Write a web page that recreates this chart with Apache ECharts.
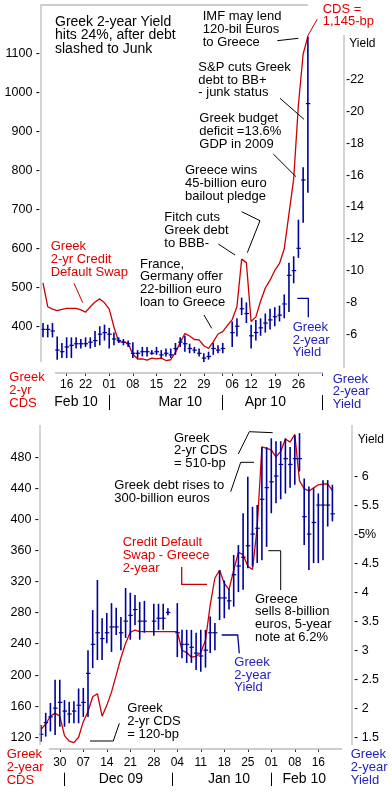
<!DOCTYPE html>
<html><head><meta charset="utf-8">
<script src="https://cdn.jsdelivr.net/npm/echarts@6/dist/echarts.min.js"></script>
<style>html,body{margin:0;padding:0;background:#fff}#c{width:392px;height:792px}</style>
</head><body><div id="c"></div>
<script>
// ---------- categories (trading days) ----------
function weekdays(a, b, skip) {
  const out = []; let d = new Date(a + 'T00:00:00Z'); const e = new Date(b + 'T00:00:00Z');
  while (d <= e) { const w = d.getUTCDay(); const s = d.toISOString().slice(0, 10);
    if (w !== 0 && w !== 6 && skip.indexOf(s) < 0) out.push(s); d = new Date(d.getTime() + 86400000); }
  return out;
}
const topDates = weekdays('2010-02-09', '2010-05-03', []);
const botDates = weekdays('2009-11-24', '2010-02-19', ['2010-02-15']);

// ---------- top chart: Feb-Apr 2010 ----------
const topCds = [513,452,446,442,445,448,448,448,444,438,452,464,472,462,446,400,362,362,358,330,
  318,318,315,320,318,320,314,316,335,360,383,377,368,367,352,345,362,382,388,404,
  419,452,574,565,414,426,466,500,520,545,563,600,690,780,970,1100,1145];
const topYieldLow = [5.8,5.8,5.8,4.4,4.5,4.5,4.5,5.1,5.1,5.2,5.1,5.2,5.3,5.6,5.1,5.3,5.45,5.3,5.2,4.5,
  4.5,4.6,4.6,4.7,4.7,4.5,4.6,4.5,4.7,5.2,4.9,4.8,4.8,4.6,4.25,4.4,4.7,4.8,4.8,null,
  5.2,5.85,7.2,6.7,5.1,5.6,5.9,6.1,6.3,6.5,6.8,7.0,7.4,9.2,10.8,13.0,14.9];
const topYieldHigh = [6.7,6.6,6.7,5.85,5.45,5.8,5.8,5.8,5.7,5.8,5.8,6.2,6.5,6.6,6.4,6.1,5.8,5.7,5.6,5.5,
  5.0,5.2,5.2,5.0,5.2,5.0,5.1,5.1,5.45,5.8,5.9,5.4,5.2,5.1,4.8,4.9,5.45,5.3,5.45,null,
  6.8,7.0,8.3,8.0,6.6,6.9,7.0,7.3,7.6,7.7,7.8,8.5,10.5,10.9,13.2,16.5,24.7];
const topYieldClose = [6.3,6.3,6.2,5.0,4.9,5.2,5.3,5.4,5.4,5.4,5.5,5.6,6.0,6.1,6.0,5.7,5.6,5.5,5.4,4.8,
  4.8,4.9,4.9,4.8,4.9,4.7,4.8,4.7,5.1,5.5,5.4,5.1,5.0,4.8,4.5,4.6,5.1,5.0,5.1,null,
  6.1,6.5,7.6,7.3,5.9,6.1,6.4,6.7,6.9,7.1,7.2,7.9,9.7,10.0,11.4,15.7,20.5];
const topLeftTicks = [400,500,600,700,800,900,1000,1100];
const topRightTicks = [6,8,10,12,14,16,18,20,22];
const topDayLabels = ['2010-02-16','2010-02-22','2010-03-01','2010-03-08','2010-03-15','2010-03-22','2010-03-29','2010-04-06','2010-04-12','2010-04-19','2010-04-26'];
const topDayTicks = topDayLabels.concat(['2010-04-02','2010-05-03']);
const topMonthAt = ['2010-02-18','2010-03-22','2010-04-15'];
const topMonthNames = ['Feb 10','Mar 10','Apr 10'];
const topMonthSep = ['2010-03-01','2010-04-02','2010-05-03'];

// ---------- bottom chart: Nov 2009 - Feb 2010 ----------
const botCds = [130,137,147,151,147,122,115,113,120,140,153,172,176,147,161,178,200,222,241,255,
  258,256,256,256,256,256,256,256,256,256,232,229,223,224,229,245,290,325,335,318,
  310,335,358,355,340,336,390,494,492,490,481,488,504,500,510,450,440,437,441,445,
  446,446,438];
const botYieldLow = [1.42,1.51,1.6,1.54,1.68,1.68,1.74,1.74,1.74,1.85,1.85,2.69,2.83,2.83,3.12,2.97,3.26,3.0,3.21,3.18,
  3.43,3.18,3.3,null,3.25,3.35,3.35,3.6,null,2.88,2.86,2.78,2.78,2.66,2.63,2.7,2.95,3.0,3.52,3.55,
  3.7,3.75,4.0,4.04,4.41,4.44,4.5,4.55,4.78,5.36,5.53,5.6,5.7,5.8,5.85,6.08,4.81,4.38,4.5,4.5,
  4.55,5.13,5.22];
const botYieldHigh = [1.71,1.92,2.09,2.49,2.49,2.14,2.11,2.12,2.34,2.35,3.0,3.69,4.21,3.55,3.64,3.81,3.73,3.57,4.07,3.99,
  3.95,3.83,3.85,null,3.8,3.8,3.8,3.72,null,3.81,3.35,3.35,3.35,3.3,3.35,3.35,3.58,3.47,4.38,4.2,
  4.06,4.64,4.81,5.36,5.99,5.47,5.5,6.5,6.5,6.65,6.6,6.6,6.65,6.5,6.7,6.74,5.96,5.82,5.79,5.7,
  5.93,5.93,5.85];
const botYieldClose = [1.55,1.75,1.85,2.0,2.1,1.95,1.9,1.95,2.05,2.1,2.6,3.1,3.3,3.2,3.3,3.4,3.4,3.3,3.5,3.6,
  3.7,3.5,3.5,null,3.5,3.55,3.55,3.65,null,3.3,3.1,3.1,3.05,2.95,2.9,3.0,3.3,3.3,3.9,3.9,
  3.85,4.3,4.45,4.6,4.8,5.0,5.1,5.6,5.8,5.9,6.0,6.2,6.3,6.2,6.3,6.3,5.3,5.0,5.2,5.5,
  5.5,5.5,5.35];
const botLeftTicks = [120,160,200,240,280,320,360,400,440,480];
const botRightTicks = [1.5,2,2.5,3,3.5,4,4.5,5,5.5,6];
const botDayLabels = ['2009-11-30','2009-12-07','2009-12-14','2009-12-21','2009-12-28','2010-01-04','2010-01-11','2010-01-18','2010-01-25','2010-02-01','2010-02-08','2010-02-16'];
const botMonthAt = ['2009-12-17','2010-01-19','2010-02-10'];
const botMonthNames = ['Dec 09','Jan 10','Feb 10'];
const botMonthSep = ['2009-12-01','2010-01-01','2010-02-01'];

// ---------- styles ----------
const RED = '#cc0000', REDT = '#e00000', BLUE = '#00009c', BLUET = '#2222bb', GRAY = '#bdbdbd';
const FONT = '"Liberation Sans", Arial, sans-serif';

function ohlc(low, high, close) {
  const d = [];
  for (let i = 0; i < low.length; i++) if (low[i] != null) d.push([i, low[i], high[i], close[i]]);
  return d;
}
function barRender(params, api) {
  const lo = api.coord([api.value(0), api.value(1)]);
  const hi = api.coord([api.value(0), api.value(2)]);
  const c = api.coord([api.value(0), api.value(3)]);
  return { type: 'group', children: [
    { type: 'line', shape: { x1: lo[0], y1: lo[1], x2: hi[0], y2: hi[1] }, style: { stroke: BLUE, lineWidth: 1.6 } },
    { type: 'line', shape: { x1: c[0] - 2, y1: c[1], x2: c[0] + 2.5, y2: c[1] }, style: { stroke: BLUE, lineWidth: 1.2 } }
  ]};
}
function txt(text, x, cy, color, size, lh) {
  return { type: 'text', x: x, y: cy - lh / 2, silent: true, z: 20,
    style: { text: text, fill: color, font: size + 'px ' + FONT, lineHeight: lh, verticalAlign: 'top', align: 'left' } };
}
function pl(points, color, w) {
  return { type: 'polyline', silent: true, z: 20, shape: { points: points }, style: { stroke: color, lineWidth: w || 1, fill: null } };
}

const dayAxis = (grid, data, offset, labels, ticks, margin) => ({
  gridIndex: grid, type: 'category', data: data, boundaryGap: false, position: 'bottom', offset: offset,
  axisLine: { show: false }, splitLine: { show: false },
  axisTick: { show: true, length: 3, interval: (i, v) => ticks.indexOf(v) >= 0, lineStyle: { color: '#333', width: 1 } },
  axisLabel: { interval: (i, v) => labels.indexOf(v) >= 0, formatter: v => v.slice(8, 10), margin: margin,
    fontSize: 12, color: '#000', fontFamily: FONT }
});
const monthAxis = (grid, data, offset, at, names, sep, len, margin) => ({
  gridIndex: grid, type: 'category', data: data, boundaryGap: false, position: 'bottom', offset: offset,
  axisLine: { show: false }, splitLine: { show: false },
  axisTick: { show: true, length: len, interval: (i, v) => sep.indexOf(v) >= 0, lineStyle: { color: '#000', width: 1 } },
  axisLabel: { interval: (i, v) => at.indexOf(v) >= 0, formatter: v => names[at.indexOf(v)] || '', margin: margin,
    fontSize: 14, color: '#000', fontFamily: FONT }
});
const valAxis = (grid, pos, min, max, interval, offset, fmt) => ({
  gridIndex: grid, type: 'value', position: pos, min: min, max: max, interval: interval, offset: offset,
  axisLine: { show: false }, axisTick: { show: false }, splitLine: { show: false },
  axisLabel: { formatter: fmt, margin: pos === 'left' ? 1 : 2, fontSize: 12.5, color: '#000', fontFamily: FONT,
    showMinLabel: true, showMaxLabel: false }
});

const chart = echarts.init(document.getElementById('c'), null, { renderer: 'canvas' });
chart.setOption({
  animation: false,
  backgroundColor: '#fff',
  textStyle: { fontFamily: FONT },
  grid: [
    { left: 43, top: 5, width: 279.07, height: 361, containLabel: false },
    { left: 41, top: 425, width: 291.4, height: 312.2, containLabel: false }
  ],
  xAxis: [
    dayAxis(0, topDates, 7, topDayLabels, topDayTicks, 6),
    monthAxis(0, topDates, 29, topMonthAt, topMonthNames, topMonthSep, 15, 0),
    dayAxis(1, botDates, 11.8, botDayLabels, botDayLabels, 7.5),
    monthAxis(1, botDates, 35.5, botMonthAt, botMonthNames, botMonthSep, 13.3, -1)
  ],
  yAxis: [
    valAxis(0, 'left', 300, 1225.6, 100, 2, v => topLeftTicks.indexOf(v) >= 0 ? v + ' -' : ''),
    valAxis(0, 'right', 4, 26.7, 2, 21.93, v => topRightTicks.indexOf(v) >= 0 ? '-' + v : ''),
    valAxis(1, 'left', 120, 522, 40, 1, v => botLeftTicks.indexOf(v) >= 0 ? v + ' -' : ''),
    valAxis(1, 'right', 1.5, 6.88, 0.5, 19.6, v => botRightTicks.indexOf(v) >= 0 ? (v === 5 ? '-5%' : '- ' + v) : '')
  ],
  series: [
    { type: 'line', xAxisIndex: 0, yAxisIndex: 0, data: topCds, symbol: 'none', clip: false, z: 2,
      lineStyle: { color: RED, width: 1.3 } },
    { type: 'custom', xAxisIndex: 0, yAxisIndex: 1, data: ohlc(topYieldLow, topYieldHigh, topYieldClose),
      renderItem: barRender, encode: { x: 0, y: [1, 2, 3] }, z: 3, clip: false },
    { type: 'line', xAxisIndex: 2, yAxisIndex: 2, data: botCds, symbol: 'none', clip: false, z: 2,
      lineStyle: { color: RED, width: 1.3 } },
    { type: 'custom', xAxisIndex: 2, yAxisIndex: 3, data: ohlc(botYieldLow, botYieldHigh, botYieldClose),
      renderItem: barRender, encode: { x: 0, y: [1, 2, 3] }, z: 3, clip: false }
  ],
  graphic: [
    // frames (top chart)
    pl([[41, 362], [41, 5], [308, 5]], GRAY, 1.3),
    pl([[344, 35], [344, 368]], GRAY, 1.3),
    pl([[55, 373], [323, 373]], GRAY, 1.3),
    // frames (bottom chart)
    pl([[40, 425], [40, 745]], GRAY, 1.3),
    pl([[352, 425], [352, 745]], GRAY, 1.3),
    pl([[49, 749], [342, 749]], GRAY, 1.3),
    // top annotations
    txt('Greek 2-year Yield\nhits 24%, after debt\nslashed to Junk', 55, 21.7, '#000', 14, 13.8),
    txt('IMF may lend\n120-bil Euros\nto Greece', 202.7, 16.7, '#000', 13, 13),
    txt('CDS =\n1,145-bp', 322.7, 9.3, REDT, 13, 12.4),
    txt('S&P cuts Greek\ndebt to BB+\n- junk status', 198.3, 67.3, '#000', 13, 12.7),
    txt('Greek budget\ndeficit =13.6%\nGDP in 2009', 199.3, 118.3, '#000', 13, 12.9),
    txt('Greece wins\n45-billion euro\nbailout pledge', 185, 170.7, '#000', 13, 12.7),
    txt('Fitch cuts\nGreek debt\nto BBB-', 164.3, 217.3, '#000', 13, 13),
    txt('France,\nGermany offer\n22-billion euro\nloan to Greece', 140, 264, '#000', 13, 12.9),
    txt('Greek\n2-yr Credit\nDefault Swap', 50.7, 246, REDT, 13, 13.2),
    txt('Greek\n2-year\nYield', 292.7, 327.3, BLUET, 13, 12.7),
    txt('Greek\n2-yr\nCDS', 9.3, 377.7, REDT, 13, 12.8),
    txt('Greek\n2-year\nYield', 332.7, 379, BLUET, 13, 12.7),
    txt('Yield', 349.3, 43.3, '#000', 12, 13),
    pl([[277.3, 40.7], [298.3, 38.3]], '#000'),
    pl([[317.3, 19], [307.3, 36.7]], RED),
    pl([[280, 98.3], [304, 119.3]], '#000'),
    pl([[273.3, 154], [296, 176.7]], '#000'),
    pl([[241.7, 211.7], [260, 220.7], [247.3, 252.7]], '#000'),
    pl([[218.3, 244], [235, 255]], '#000'),
    pl([[204, 315], [211.7, 328.3]], '#000'),
    pl([[74, 283.3], [82.7, 302.7]], RED),
    pl([[297.3, 298.3], [308.3, 298.3], [308.3, 317.3]], BLUE, 1.3),
    // bottom annotations
    txt('Greek\n2-yr CDS\n= 510-bp', 174, 438.3, '#000', 13, 12.5),
    txt('Greek debt rises to\n300-billion euros', 114.3, 485, '#000', 13, 13.3),
    txt('Credit Default\nSwap - Greece\n2-year', 122.7, 542.3, REDT, 13, 13),
    txt('Greece\nsells 8-billion\neuros, 5-year\nnote at 6.2%', 255, 599, '#000', 13, 12.8),
    txt('Greek\n2-year\nYield', 234.3, 662.3, BLUET, 13, 12.7),
    txt('Greek\n2-yr CDS\n= 120-bp', 127.3, 708.3, '#000', 13, 12.9),
    txt('Greek\n2-year\nCDS', 6.7, 754.3, REDT, 13, 12.85),
    txt('Greek\n2-year\nYield', 350.7, 754.3, BLUET, 13, 12.85),
    txt('Yield', 357.7, 439.3, '#000', 12, 13),
    pl([[238.3, 454], [249.3, 431.7], [272.7, 432.7]], '#000'),
    pl([[230.7, 491.7], [240.7, 462.3], [254, 462.3]], '#000'),
    pl([[181.7, 567], [181.7, 584.3], [207, 584.3]], RED, 1.3),
    pl([[268.3, 550.7], [280.7, 550.7], [280.7, 590]], '#000'),
    pl([[221.7, 635], [237.7, 635], [239.3, 653.3]], BLUE, 1.3),
    pl([[90, 741], [113.3, 741], [119.3, 723.3]], '#000')
  ]
});
</script></body></html>
